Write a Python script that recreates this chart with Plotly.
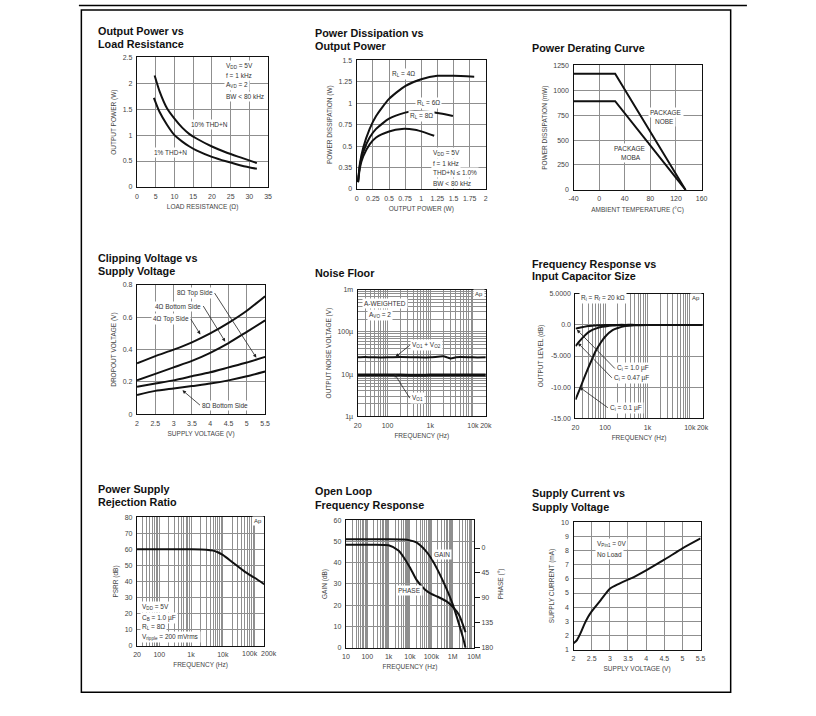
import math
import plotly.graph_objects as go

W, H = 816, 716

# ---------------- data ----------------
# 1. Output Power vs Load Resistance
op_load10_ohm = [4.7, 6, 8, 10, 12, 14, 16, 20, 24, 28, 32]
op_thd10_w = [2.15, 1.85, 1.52, 1.32, 1.15, 1.02, 0.93, 0.78, 0.66, 0.56, 0.46]
op_load1_ohm = [4.5, 6, 8, 10, 12, 14, 16, 20, 24, 28, 32]
op_thd1_w = [1.72, 1.45, 1.20, 1.00, 0.88, 0.78, 0.70, 0.58, 0.49, 0.41, 0.35]

# 2. Power Dissipation vs Output Power
pd_r4_x = [0.02, 0.05, 0.1, 0.2, 0.3, 0.5, 0.75, 1.0, 1.25, 1.5, 1.82]
pd_r4_y = [0.08, 0.30, 0.48, 0.70, 0.85, 1.05, 1.20, 1.28, 1.32, 1.32, 1.31]
pd_r6_x = [0.02, 0.05, 0.1, 0.2, 0.3, 0.5, 0.75, 0.9, 1.1, 1.3, 1.49]
pd_r6_y = [0.08, 0.28, 0.43, 0.60, 0.70, 0.82, 0.89, 0.91, 0.90, 0.88, 0.85]
pd_r8_x = [0.02, 0.05, 0.1, 0.2, 0.3, 0.5, 0.7, 0.9, 1.05, 1.2]
pd_r8_y = [0.08, 0.25, 0.38, 0.52, 0.60, 0.67, 0.70, 0.69, 0.66, 0.62]

# 3. Power Derating Curve
der_temp_c = [-40, 25, 135]
der_nobe_mw = [1165, 1165, 0]
der_moba_mw = [890, 890, 0]

# 4. Clipping Voltage vs Supply Voltage
clip_vdd = [2.0, 2.5, 3.0, 3.5, 4.0, 4.5, 5.0, 5.5]
clip_4top = [0.315, 0.36, 0.40, 0.445, 0.50, 0.565, 0.64, 0.73]
clip_4bot = [0.21, 0.25, 0.29, 0.33, 0.38, 0.44, 0.51, 0.58]
clip_8top = [0.17, 0.19, 0.21, 0.235, 0.26, 0.29, 0.32, 0.355]
clip_8bot = [0.12, 0.145, 0.16, 0.175, 0.19, 0.21, 0.235, 0.265]

# 5. Noise Floor
nf_freq = [20, 30, 40, 50, 100, 200, 500, 1000, 2000, 2500, 3000, 4000, 5000, 10000, 20000]
nf_vo1vo2 = [25e-6, 25.5e-6, 25e-6, 25e-6, 25e-6, 25.5e-6, 25e-6, 25e-6, 26.5e-6, 25e-6, 23.5e-6, 25e-6, 25.5e-6, 25e-6, 25e-6]
nf_vo1 = [9.5e-6, 9.5e-6, 9.5e-6, 9.5e-6, 9.6e-6, 9.5e-6, 9.4e-6, 9.5e-6, 9.5e-6, 9.5e-6, 9.5e-6, 9.5e-6, 9.5e-6, 9.5e-6, 9.5e-6]

# 6. Frequency Response vs Input Capacitor Size
fr_freq = [20, 25, 30, 40, 50, 60, 80, 100, 150, 200, 300, 500, 1000, 20000]
fr_c1u = [-0.6, -0.45, -0.35, -0.2, -0.14, -0.1, -0.06, -0.03, -0.01, 0, 0, 0, 0, 0]
fr_c047u = [-3.4, -2.6, -2.0, -1.2, -0.8, -0.6, -0.35, -0.25, -0.1, -0.05, 0, 0, 0, 0]
fr_c01u = [-12.0, -10.4, -9.0, -6.9, -5.4, -4.2, -2.8, -1.9, -0.85, -0.5, -0.2, -0.05, 0, 0]

# 7. PSRR
psrr_freq = [20, 100, 1000, 3000, 5000, 7000, 10000, 20000, 50000, 100000, 200000]
psrr_db = [60, 60, 60, 59.8, 59.2, 58.2, 56.5, 52, 46, 42.3, 38.3]

# 8. Open Loop Frequency Response
ol_freq = [10, 100, 1000, 5000, 10000, 20000, 50000, 100000, 200000, 500000, 1000000, 2000000, 3000000, 4000000]
ol_gain_db = [51, 51, 51, 50.9, 50.5, 49.5, 46, 42, 36.5, 28, 20.5, 11, 5, 0]
ol_phase_freq = [10, 100, 1000, 3000, 10000, 20000, 50000, 100000, 200000, 500000, 1000000, 2000000, 4000000]
ol_phase_deg = [-6, -6, -5, 5, 35, 57, 75, 83, 88, 96, 106, 121, 152]

# 9. Supply Current vs Supply Voltage
sc_vdd = [2.0, 2.1, 2.2, 2.3, 2.4, 2.5, 2.75, 3.0, 3.25, 3.5, 3.6, 4.0, 4.5, 5.0, 5.5]
sc_ma = [1.45, 1.7, 2.2, 2.8, 3.3, 3.7, 4.5, 5.3, 5.65, 5.95, 6.05, 6.6, 7.35, 8.15, 8.85]

# ---------------- styling helpers ----------------
SANS = "Liberation Sans, Arial, sans-serif"
TICKF = dict(family=SANS, size=7, color="#444")
TITLEF = dict(family=SANS, size=6.5, color="#444")
GRID = "#8f8f8f"
LINE = "#111"

PLOTS = {
    1: (134, 267, 54, 185),
    2: (357, 488, 57, 187),
    3: (577, 707, 62, 188),
    4: (134, 264, 284, 415),
    5: (358, 488, 289, 417),
    6: (579, 708, 293, 419),
    7: (134, 263, 519, 649),
    8: (346, 476, 522, 651),
    9: (577, 706, 524, 653),
}


def xdom(i):
    x0, x1, _, _ = PLOTS[i]
    return [x0 / W, x1 / W]


def ydom(i):
    _, _, y0, y1 = PLOTS[i]
    return [1 - y1 / H, 1 - y0 / H]


def log_minor(lo, hi):
    vals = []
    d = 10 ** math.floor(math.log10(lo))
    while d <= hi * 1.0001:
        for k in range(1, 10):
            v = k * d
            if lo * 0.9999 <= v <= hi * 1.0001:
                vals.append(v)
        d *= 10
    return vals


def axis(i, letter, title, rng, tickvals, ticktext, log=False, minor=None, **kw):
    d = dict(
        domain=xdom(i) if letter == "x" else ydom(i),
        anchor=("y" if letter == "x" else "x") + ("" if i == 1 else str(i)),
        range=rng, type="log" if log else "linear",
        tickmode="array", tickvals=tickvals, ticktext=ticktext, tickangle=0,
        showline=True, linecolor=LINE, linewidth=1.4, mirror=True,
        showgrid=True, gridcolor=GRID, gridwidth=1, zeroline=False,
        ticks="", tickfont=TICKF, ticklabelstandoff=2,
        title=dict(text=title, font=TITLEF, standoff=5),
    )
    if minor is not None:
        d["minor"] = dict(tickvals=minor, showgrid=True, gridcolor=GRID, gridwidth=0.8, ticks="")
    d.update(kw)
    return d


def nums(vals, fmt="{:g}"):
    return [fmt.format(v) for v in vals]


fig = go.Figure()


def curve(i, x, y, width=2.0, yaxis=None, spline=True):
    line = dict(color=LINE, width=width)
    if spline:
        line.update(shape="spline", smoothing=0.6)
    fig.add_trace(go.Scatter(
        x=x, y=y, mode="lines", line=line,
        xaxis="x" if i == 1 else f"x{i}",
        yaxis=yaxis if yaxis else ("y" if i == 1 else f"y{i}"),
        showlegend=False, hoverinfo="skip"))


# traces
curve(1, op_load10_ohm, op_thd10_w)
curve(1, op_load1_ohm, op_thd1_w)
curve(2, pd_r4_x, pd_r4_y)
curve(2, pd_r6_x, pd_r6_y)
curve(2, pd_r8_x, pd_r8_y)
curve(3, der_temp_c, der_nobe_mw, spline=False)
curve(3, der_temp_c, der_moba_mw, spline=False)
curve(4, clip_vdd, clip_4top)
curve(4, clip_vdd, clip_4bot)
curve(4, clip_vdd, clip_8top)
curve(4, clip_vdd, clip_8bot)
curve(5, nf_freq, nf_vo1vo2, width=2.0)
curve(5, nf_freq, nf_vo1, width=3.0)
curve(6, fr_freq, fr_c1u)
curve(6, fr_freq, fr_c047u)
curve(6, fr_freq, fr_c01u)
curve(7, psrr_freq, psrr_db)
curve(8, ol_freq, ol_gain_db)
curve(8, ol_phase_freq, ol_phase_deg, yaxis="y10")
curve(9, sc_vdd, sc_ma)

# axes
L = math.log10
lay = {}
lay["xaxis"] = axis(1, "x", "LOAD RESISTANCE (Ω)", [0, 35], list(range(0, 40, 5)), nums(range(0, 40, 5)))
lay["yaxis"] = axis(1, "y", "OUTPUT POWER (W)", [0, 2.5], [0, 0.5, 1, 1.5, 2, 2.5], ["0", "0.5", "1", "1.5", "2", "2.5"])

x2v = [0, 0.25, 0.5, 0.75, 1, 1.25, 1.5, 1.75, 2]
lay["xaxis2"] = axis(2, "x", "OUTPUT POWER (W)", [0, 2], x2v, nums(x2v))
lay["yaxis2"] = axis(2, "y", "POWER DISSIPATION (W)", [0, 1.5], [0, 0.25, 0.5, 0.75, 1, 1.25, 1.5],
                     ["0", "0.35", "0.5", "0.75", "1", "1.25", "1.5"])

x3v = [-40, 0, 40, 80, 120, 160]
lay["xaxis3"] = axis(3, "x", "AMBIENT TEMPERATURE (°C)", [-40, 160], x3v, ["-40", "0", "40", "80", "120", "160"])
y3v = [0, 250, 500, 750, 1000, 1250]
lay["yaxis3"] = axis(3, "y", "POWER DISSIPATION (mW)", [0, 1250], y3v, nums(y3v))

x4v = [2, 2.5, 3, 3.5, 4, 4.5, 5, 5.5]
lay["xaxis4"] = axis(4, "x", "SUPPLY VOLTAGE (V)", [2, 5.5], x4v, nums(x4v))
lay["yaxis4"] = axis(4, "y", "DROPOUT VOLTAGE (V)", [0, 0.8], [0, 0.2, 0.4, 0.6, 0.8], ["0", "0.2", "0.4", "0.6", "0.8"])

lay["xaxis5"] = axis(5, "x", "FREQUENCY (Hz)", [L(20), L(20000)], [20, 100, 1000, 10000, 20000],
                     ["20", "100", "1k", "10k", "20k"], log=True, minor=log_minor(20, 20000))
lay["yaxis5"] = axis(5, "y", "OUTPUT NOISE VOLTAGE (V)", [-6, -3], [1e-6, 1e-5, 1e-4, 1e-3],
                     ["1µ", "10µ", "100µ", "1m"], log=True, minor=log_minor(1e-6, 1e-3))

lay["xaxis6"] = axis(6, "x", "FREQUENCY (Hz)", [L(20), L(20000)], [20, 100, 1000, 10000, 20000],
                     ["20", "100", "1k", "10k", "20k"], log=True, minor=log_minor(20, 20000))
lay["yaxis6"] = axis(6, "y", "OUTPUT LEVEL (dB)", [-15, 5], [-15, -10, -5, 0, 5],
                     ["-15.00", "-10.00", "-5.000", "0.0", "5.0000"])

lay["xaxis7"] = axis(7, "x", "FREQUENCY (Hz)", [L(20), L(200000)], [20, 100, 1000, 10000],
                     ["20", "100", "1k", "10k"], log=True, minor=log_minor(20, 200000))
lay["yaxis7"] = axis(7, "y", "PSRR (dB)", [0, 80], list(range(0, 90, 10)), nums(range(0, 90, 10)))

lay["xaxis8"] = axis(8, "x", "FREQUENCY (Hz)", [1, 7], [10, 100, 1000, 1e4, 1e5, 1e6, 1e7],
                     ["10", "100", "1k", "10k", "100k", "1M", "10M"], log=True, minor=log_minor(10, 1e7))
lay["yaxis8"] = axis(8, "y", "GAIN (dB)", [0, 60], list(range(0, 70, 10)), nums(range(0, 70, 10)))
lay["yaxis10"] = dict(
    domain=ydom(8), anchor="x8", overlaying="y8", side="right", range=[180, -50.3],
    tickmode="array", tickvals=[0, 45, 90, 135, 180], ticktext=["0", "45", "90", "135", "180"],
    showline=False, showgrid=False, zeroline=False, ticks="outside", ticklen=5, tickcolor=LINE,
    tickwidth=1, tickfont=TICKF, title=dict(text="PHASE (°)", font=TITLEF, standoff=6))

x9v = [2, 2.5, 3, 3.5, 4, 4.5, 5, 5.5]
lay["xaxis9"] = axis(9, "x", "SUPPLY VOLTAGE (V)", [2, 5.5], x9v, nums(x9v))
lay["yaxis9"] = axis(9, "y", "SUPPLY CURRENT (mA)", [1, 10], list(range(1, 11)), nums(range(1, 11)))

# ---------------- annotations ----------------
ann = []


def refs(i):
    return ("x" if i == 1 else f"x{i}"), ("y" if i == 1 else f"y{i}")


def txt(i, x, y, text, xanchor="left", size=6.5, bg=True):
    xr, yr = refs(i)
    ann.append(dict(
        xref=xr, yref=yr, x=x, y=y, text=text, showarrow=False, xanchor=xanchor, yanchor="middle",
        font=dict(family=SANS, size=size, color="#333"),
        bgcolor="white" if bg else "rgba(0,0,0,0)", borderpad=1))


def leader(i, text, tx, ty, px, py, xanchor):
    """label anchored at (tx, ty) with a leader arrow pointing to (px, py)"""
    xr, yr = refs(i)
    ann.append(dict(
        xref=xr, yref=yr, x=px, y=py, ax=tx, ay=ty, axref=xr, ayref=yr, text=text,
        xanchor=xanchor, yanchor="middle", showarrow=True, arrowhead=2, arrowsize=0.9,
        arrowwidth=0.8, arrowcolor="#222", standoff=0,
        font=dict(family=SANS, size=6.5, color="#333"), bgcolor="white", borderpad=1))


# 1
txt(1, 23.1, 2.335, "V<sub>DD</sub> = 5V")
txt(1, 23.1, 2.16, "f = 1 kHz")
txt(1, 23.1, 1.97, "A<sub>VD</sub> = 2")
txt(1, 23.1, 1.75, "BW &lt; 80 kHz")
txt(1, 13.8, 1.21, "10% THD+N")
txt(1, 4.1, 0.67, "1% THD+N")
# 2
txt(2, 0.52, 1.346, "R<sub>L</sub> = 4Ω")
txt(2, 0.906, 1.008, "R<sub>L</sub> = 6Ω")
txt(2, 0.80, 0.854, "R<sub>L</sub> = 8Ω")
txt(2, 1.15, 0.423, "V<sub>DD</sub> = 5V")
txt(2, 1.15, 0.296, "f = 1 kHz")
txt(2, 1.15, 0.192, "THD+N ≤ 1.0%")
txt(2, 1.15, 0.065, "BW &lt; 80 kHz")
# 3
txt(3, 104, 780, "PACKAGE", xanchor="center")
txt(3, 102, 688, "NOBE", xanchor="center")
txt(3, 48, 413, "PACKAGE", xanchor="center")
txt(3, 50, 324, "MOBA", xanchor="center")
# 4
leader(4, "8Ω Top Side", 4.12, 0.749, 5.26, 0.35, "right")
leader(4, "4Ω Bottom Side", 3.81, 0.669, 4.41, 0.449, "right")
leader(4, "4Ω Top Side", 3.47, 0.588, 3.73, 0.494, "right")
leader(4, "8Ω Bottom Side", 3.72, 0.057, 3.24, 0.149, "left")
# 5
txt(5, 1.393, -3.322, "A-WEIGHTED")
txt(5, 1.509, -3.588, "A<sub>VO</sub> = 2")
txt(5, 4.29, -3.09, "Ap", xanchor="right", size=6)
leader(5, "V<sub>O1</sub> + V<sub>O2</sub>", 2.52, -4.316, 2.186, -4.59, "left")
leader(5, "V<sub>O1</sub>", 2.52, -5.569, 2.16, -4.99, "left")
# 6
txt(6, 1.379, 4.37, "R<sub>i</sub> = R<sub>f</sub> = 20 kΩ")
txt(6, 4.29, 4.37, "Ap", xanchor="right", size=6)
leader(6, "C<sub>i</sub> = 1.0 µF", 2.23, -7.0, 1.332, -0.76, "left")
leader(6, "C<sub>i</sub> = 0.47 µF", 2.16, -8.5, 1.358, -2.9, "left")
leader(6, "C<sub>i</sub> = 0.1 µF", 2.065, -13.3, 1.397, -10.0, "left")
# 7
txt(7, 1.404, 24.1, "V<sub>DD</sub> = 5V")
txt(7, 1.404, 17.3, "C<sub>B</sub> = 1.0 µF")
txt(7, 1.404, 11.7, "R<sub>L</sub> = 8Ω")
txt(7, 1.404, 5.55, "V<sub>ripple</sub> = 200 mVrms")
txt(7, 5.29, 77.5, "Ap", xanchor="right", size=6)
# PSRR tick labels that the datasheet spreads apart (paper coords, under the axis)
for lx, lt in [(249, "100k"), (268, "200k")]:
    ann.append(dict(xref="paper", yref="paper", x=lx / W, y=1 - 656.5 / H, text=lt, showarrow=False,
                    xanchor="center", yanchor="middle", font=TICKF))
# 8
txt(8, 5.506, 44, "GAIN", xanchor="center")
txt(8, 3.963, 26.7, "PHASE", xanchor="center")
# 9
txt(9, 2.6, 8.47, "V<sub>Pin1</sub> = 0V")
txt(9, 2.6, 7.73, "No Load")

# subplot titles (paper coords): one annotation per line, placed at the line centre
title_lines = [
    (92, 27.5, "Output Power vs"), (92, 40, "Load Resistance"),
    (313, 29.5, "Power Dissipation vs"), (313, 42, "Output Power"),
    (533, 45, "Power Derating Curve"),
    (92, 257, "Clipping Voltage vs"), (92, 270.5, "Supply Voltage"),
    (313, 272.5, "Noise Floor"),
    (533, 262.5, "Frequency Response vs"), (533, 275.5, "Input Capacitor Size"),
    (92, 490, "Power Supply"), (92, 504, "Rejection Ratio"),
    (313, 492, "Open Loop"), (313, 506.5, "Frequency Response"),
    (533, 495, "Supply Current vs"), (533, 508.5, "Supply Voltage"),
]
for px, py, t in title_lines:
    ann.append(dict(xref="paper", yref="paper", x=px / W, y=1 - py / H, text=f"<b>{t}</b>",
                    showarrow=False, xanchor="left", yanchor="middle", align="left",
                    font=dict(family=SANS, size=10.8, color="#111")))

shapes = [
    dict(type="line", xref="paper", yref="paper", x0=75 / W, x1=753 / W, y0=1 - 1.5 / H, y1=1 - 1.5 / H,
         line=dict(color="black", width=1.5)),
    dict(type="rect", xref="paper", yref="paper", x0=77.5 / W, x1=736.5 / W, y0=1 - 696 / H, y1=1 - 6 / H,
         line=dict(color="black", width=1.5)),
]

fig.update_layout(
    width=W, height=H, margin=dict(l=0, r=0, t=0, b=0),
    paper_bgcolor="white", plot_bgcolor="white",
    showlegend=False, annotations=ann, shapes=shapes,
    font=dict(family=SANS),
    **lay,
)

fig.write_html(
    "out.html",
    config={"displayModeBar": False, "responsive": False},
    post_script=("document.documentElement.style.margin='0';document.body.style.margin='0';"
                 "document.documentElement.style.overflow='hidden';document.body.style.overflow='hidden';"
                 "window.scrollTo(0,0);"),
)
